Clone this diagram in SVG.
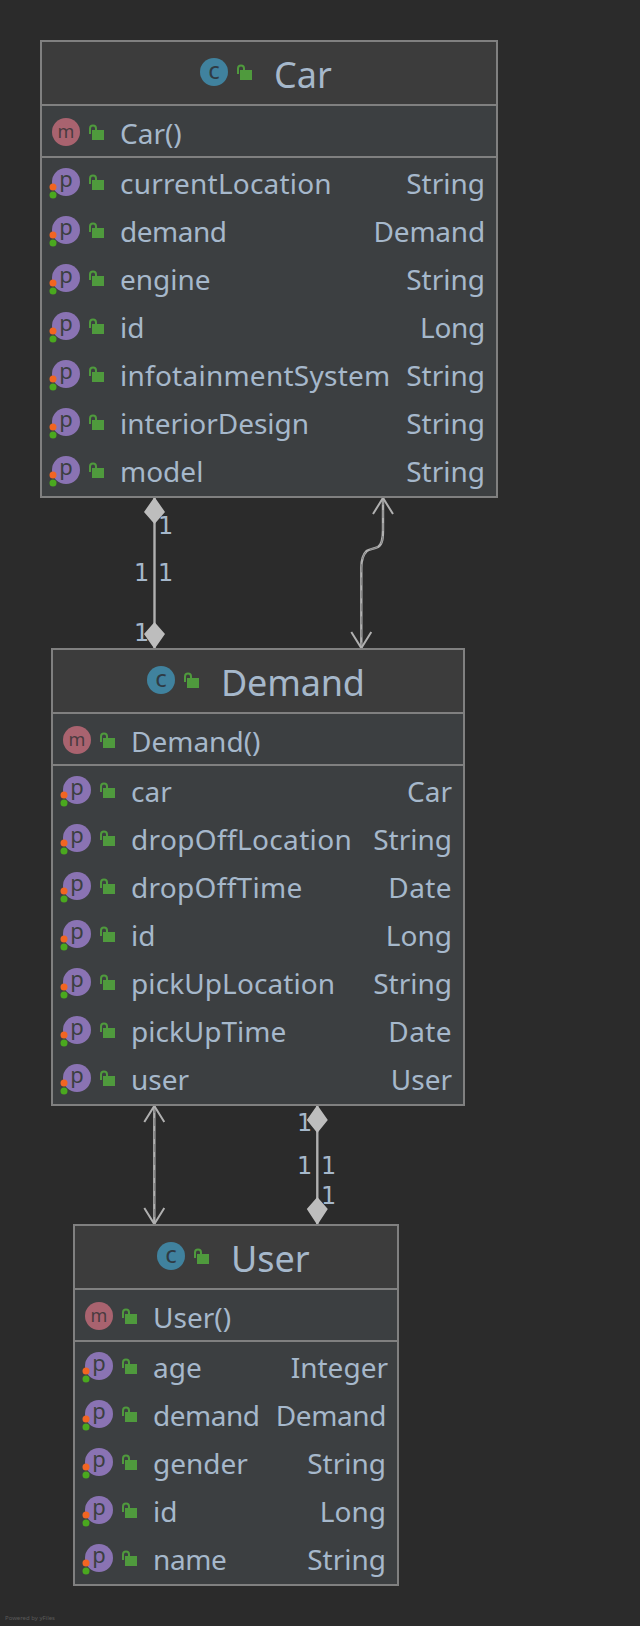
<svg xmlns="http://www.w3.org/2000/svg" xmlns:xlink="http://www.w3.org/1999/xlink" width="640" height="1626" viewBox="0 0 640 1626">
<style>
text{font-family:"Noto Sans","DejaVu Sans",sans-serif;fill:#a6b8cb}
.title{font-size:36px}
.row{font-size:28px}
.type{font-size:28px;text-anchor:end}
text.mult{font-size:24px;font-family:"DejaVu Sans",sans-serif}
.box{fill:#3c3f41;stroke:none}
.head{fill:#3c3c3c}
.frame{fill:none;stroke:#808080;stroke-width:2}
.sep{stroke:#808080;stroke-width:2}
text.ic{font-size:24px;text-anchor:middle;fill:#2f3b44}
text.im{font-size:18px;text-anchor:middle;fill:#4a3b40}
text.ip{font-size:22px;text-anchor:middle;fill:#3c3f41}
.ln{fill:none;stroke:#b0b0b0;stroke-width:2.4}
.dash{fill:none;stroke:#808080;stroke-width:1;stroke-dasharray:8 5}
.head-a{fill:none;stroke:#b0b0b0;stroke-width:2}
.dia{fill:#bdbdbd}
text.by{font-size:6px;fill:#5a5a5a}
</style>
<defs>
<g id="lock"><rect x="4" y="6" width="12" height="10" fill="#4f9a3d"/><path d="M2 10V4.500a3 3 0 0 1 6 0V6" fill="none" stroke="#4f9a3d" stroke-width="2"/></g>
<g id="pi"><circle r="14" fill="#8a73b3"/><text class="ip" y="5">p</text><circle cx="-13" cy="5" r="3.500" fill="#f26522"/><circle cx="-13" cy="13" r="3.500" fill="#4aa81f"/><use xlink:href="#lock" x="22" y="-8"/></g>
<g id="mi"><circle r="14" fill="#a9636f"/><text class="im" y="6">m</text><use xlink:href="#lock" x="22" y="-8"/></g>
<g id="ci"><circle r="14" fill="#40829e"/><text class="ic" y="7">c</text><use xlink:href="#lock" x="22" y="-8"/></g>
</defs>
<rect width="640" height="1626" fill="#2b2b2b"/>
<g id="connectors">
<path class="ln" d="M154.500 497V649"/>
<path class="dia" d="M154.500 497L165 512L154.500 524L144 512ZM154.500 622L165 634L154.500 649L144 634Z"/>
<path class="ln" d="M383 497V530C383 538 382.500 544 378 547C374 549 369 549 366.700 551C363.500 554 361.300 561 361.300 568V649"/>
<path class="dash" d="M383 497V530C383 538 382.500 544 378 547C374 549 369 549 366.700 551C363.500 554 361.300 561 361.300 568V649"/>
<path class="head-a" d="M373 514L383 498L393 514M351.300 632L361.300 648L371.300 632"/>
<path class="ln" d="M154.300 1105V1225"/>
<path class="dash" d="M154.300 1105V1225"/>
<path class="head-a" d="M144.300 1122L154.300 1106L164.300 1122M144.300 1208L154.300 1224L164.300 1208"/>
<path class="ln" d="M317.300 1105V1225"/>
<path class="dia" d="M317.300 1105L327.800 1120L317.300 1133L306.800 1120ZM317.300 1197L327.800 1209L317.300 1225L306.800 1209Z"/>
</g>
<g id="labels">
<text class="mult" x="158" y="534">1</text>
<text class="mult" x="134" y="581">1</text>
<text class="mult" x="158" y="581">1</text>
<text class="mult" x="134" y="641">1</text>
<text class="mult" x="297" y="1131">1</text>
<text class="mult" x="297" y="1174">1</text>
<text class="mult" x="321" y="1174">1</text>
<text class="mult" x="321" y="1204">1</text>
</g>
<g id="car" transform="translate(41 41)">
<rect class="box" width="456" height="456"/><rect class="head" width="456" height="64"/>
<use xlink:href="#ci" x="173" y="31"/><text class="title" x="233" y="47">Car</text>
<use xlink:href="#mi" x="25" y="91"/><text class="row" x="79" y="103">Car()</text>
<path class="sep" d="M0 64H456M0 116H456"/><rect class="frame" width="456" height="456"/>
<use xlink:href="#pi" x="25" y="141"/><text class="row" x="79" y="153" letter-spacing=".2">currentLocation</text><text class="type" x="444" y="153">String</text>
<use xlink:href="#pi" x="25" y="189"/><text class="row" x="79" y="201" letter-spacing="-.5">demand</text><text class="type" x="444" y="201" letter-spacing="-.2">Demand</text>
<use xlink:href="#pi" x="25" y="237"/><text class="row" x="79" y="249">engine</text><text class="type" x="444" y="249">String</text>
<use xlink:href="#pi" x="25" y="285"/><text class="row" x="79" y="297">id</text><text class="type" x="444" y="297" letter-spacing="-.3">Long</text>
<use xlink:href="#pi" x="25" y="333"/><text class="row" x="79" y="345" letter-spacing=".25">infotainmentSystem</text><text class="type" x="444" y="345">String</text>
<use xlink:href="#pi" x="25" y="381"/><text class="row" x="79" y="393">interiorDesign</text><text class="type" x="444" y="393">String</text>
<use xlink:href="#pi" x="25" y="429"/><text class="row" x="79" y="441">model</text><text class="type" x="444" y="441">String</text>
</g>
<g id="demand" transform="translate(52 649)">
<rect class="box" width="412" height="456"/><rect class="head" width="412" height="64"/>
<use xlink:href="#ci" x="109" y="31"/><text class="title" x="169" y="47" letter-spacing="-.2">Demand</text>
<use xlink:href="#mi" x="25" y="91"/><text class="row" x="79" y="103">Demand()</text>
<path class="sep" d="M0 64H412M0 116H412"/><rect class="frame" width="412" height="456"/>
<use xlink:href="#pi" x="25" y="141"/><text class="row" x="79" y="153">car</text><text class="type" x="400" y="153">Car</text>
<use xlink:href="#pi" x="25" y="189"/><text class="row" x="79" y="201" letter-spacing=".35">dropOffLocation</text><text class="type" x="400" y="201">String</text>
<use xlink:href="#pi" x="25" y="237"/><text class="row" x="79" y="249" letter-spacing=".3">dropOffTime</text><text class="type" x="400" y="249" letter-spacing=".4">Date</text>
<use xlink:href="#pi" x="25" y="285"/><text class="row" x="79" y="297">id</text><text class="type" x="400" y="297">Long</text>
<use xlink:href="#pi" x="25" y="333"/><text class="row" x="79" y="345" letter-spacing=".1">pickUpLocation</text><text class="type" x="400" y="345">String</text>
<use xlink:href="#pi" x="25" y="381"/><text class="row" x="79" y="393">pickUpTime</text><text class="type" x="400" y="393" letter-spacing=".4">Date</text>
<use xlink:href="#pi" x="25" y="429"/><text class="row" x="79" y="441">user</text><text class="type" x="400" y="441">User</text>
</g>
<g id="user" transform="translate(74 1225)">
<rect class="box" width="324" height="360"/><rect class="head" width="324" height="64"/>
<use xlink:href="#ci" x="97" y="31"/><text class="title" x="157" y="47">User</text>
<use xlink:href="#mi" x="25" y="91"/><text class="row" x="79" y="103">User()</text>
<path class="sep" d="M0 64H324M0 116H324"/><rect class="frame" width="324" height="360"/>
<use xlink:href="#pi" x="25" y="141"/><text class="row" x="79" y="153">age</text><text class="type" x="314" y="153">Integer</text>
<use xlink:href="#pi" x="25" y="189"/><text class="row" x="79" y="201" letter-spacing="-.5">demand</text><text class="type" x="312" y="201" letter-spacing="-.4">Demand</text>
<use xlink:href="#pi" x="25" y="237"/><text class="row" x="79" y="249">gender</text><text class="type" x="312" y="249">String</text>
<use xlink:href="#pi" x="25" y="285"/><text class="row" x="79" y="297">id</text><text class="type" x="312" y="297">Long</text>
<use xlink:href="#pi" x="25" y="333"/><text class="row" x="79" y="345" letter-spacing="-.4">name</text><text class="type" x="312" y="345">String</text>
</g>
<text class="by" x="5" y="1620">Powered by yFiles</text>
</svg>
